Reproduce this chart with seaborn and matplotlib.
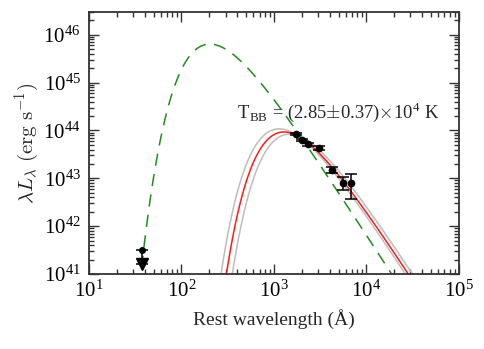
import numpy as np
import pandas as pd
import seaborn as sns
import matplotlib.pyplot as plt
from matplotlib.ticker import LogLocator, NullFormatter

# photometry (rest wavelength in Angstrom, lambda*L_lambda in erg/s)
wave = [1730, 1990, 2310, 3090, 4240, 5610, 6850]
lum = [8.5e43, 6.35e43, 5.15e43, 4.33e43, 1.50e43, 8.1e42, 7.9e42]
lum_err = [0.35e43, 0.3e43, 0.3e43, 0.48e43, 0.2e43, 2.4e42, 4.2e42]

# X-ray upper limit
xray_wave = [37.7]
xray_lim = [3.2e41]

# blackbody models: temperature (K) and peak lambda*L_lambda (erg/s)
bb_temp = [2.85e4, 3.22e4, 2.48e4]
bb_peak = [9.3e43, 1.08e44, 8.4e43]
hot_temp = 1.81e5
hot_peak = 6.4e45

HC_K = 1.4388e8  # hc/k in Angstrom*K


def bb_lam_l(lam, temp, peak):
    x = HC_K / (lam * temp)
    f = x**4 / np.expm1(x)
    xp = 3.9207
    return peak * f / (xp**4 / np.expm1(xp))


lam = np.logspace(1, 5, 1500)

sns.set_style("ticks")
plt.rcParams['font.family'] = ['Liberation Serif', 'DejaVu Serif']
plt.rcParams['mathtext.fontset'] = 'cm'
plt.rcParams['axes.edgecolor'] = '#333333'
plt.rcParams['xtick.color'] = '#333333'
plt.rcParams['ytick.color'] = '#333333'
plt.rcParams['xtick.labelcolor'] = 'black'
plt.rcParams['ytick.labelcolor'] = 'black'

fig = plt.figure(figsize=(4.85, 3.49), dpi=100)
ax = fig.add_axes([0.1835, 0.215, 0.7625, 0.751])

# gray uncertainty curves, red best fit
for t, p in zip(bb_temp[1:], bb_peak[1:]):
    df = pd.DataFrame({'lam': lam, 'L': bb_lam_l(lam, t, p)})
    sns.lineplot(data=df, x='lam', y='L', ax=ax, color='#bdbdbd', lw=1.1)
df = pd.DataFrame({'lam': lam, 'L': bb_lam_l(lam, bb_temp[0], bb_peak[0])})
sns.lineplot(data=df, x='lam', y='L', ax=ax, color='#ff1a1a', lw=1.1)

# hot component
df = pd.DataFrame({'lam': lam, 'L': bb_lam_l(lam, hot_temp, hot_peak)})
sns.lineplot(data=df, x='lam', y='L', ax=ax, color='#228b22', lw=1.1,
             linestyle=(0, (8, 5.5)))

# data points
ax.errorbar(wave, lum, yerr=lum_err, fmt='o', color='black', ms=4.5,
            capsize=4, elinewidth=1.1, capthick=1.1, zorder=5)

# upper limit with arrow
for xw, yl in zip(xray_wave, xray_lim):
    ax.errorbar([xw], [yl], yerr=[[yl * 0.5], [0]], fmt='o', color='black',
                ms=4, capsize=4, elinewidth=1.1, capthick=1.1, zorder=5)
    ax.plot([xw], [yl * 0.5], marker='v', color='black', ms=8, zorder=6)

ax.set_xscale('log')
ax.set_yscale('log')
ax.set_xlim(10, 1e5)
ax.set_ylim(1e41, 10**46.48)
for axis in (ax.xaxis, ax.yaxis):
    axis.set_major_locator(LogLocator(base=10, numticks=20))
    axis.set_minor_locator(LogLocator(base=10, subs=np.arange(2, 10), numticks=20))
    axis.set_minor_formatter(NullFormatter())

ax.tick_params(which='both', direction='in', top=True, right=True,
               labelsize=15, width=1.0)
ax.tick_params(which='major', length=7)
ax.tick_params(axis='x', which='major', pad=5)
ax.tick_params(axis='y', which='major', pad=6)
ax.tick_params(which='minor', length=3.5)
for s in ax.spines.values():
    s.set_linewidth(1.3)

ax.set_xlabel('Rest wavelength (Å)', fontsize=14, labelpad=5)
ax.set_ylabel(r'$\lambda L_\lambda\ \mathrm{(erg\ s^{-1})}$', fontsize=15,
              labelpad=2)

ax.text(0.4, 0.618,
        r'T$_\mathdefault{BB}$ = (2.85$\pm$0.37)$\times$10$^\mathdefault{4}$ K',
        transform=ax.transAxes, fontsize=13.3, ha='left', va='center')

plt.savefig('out.png', dpi=100)
